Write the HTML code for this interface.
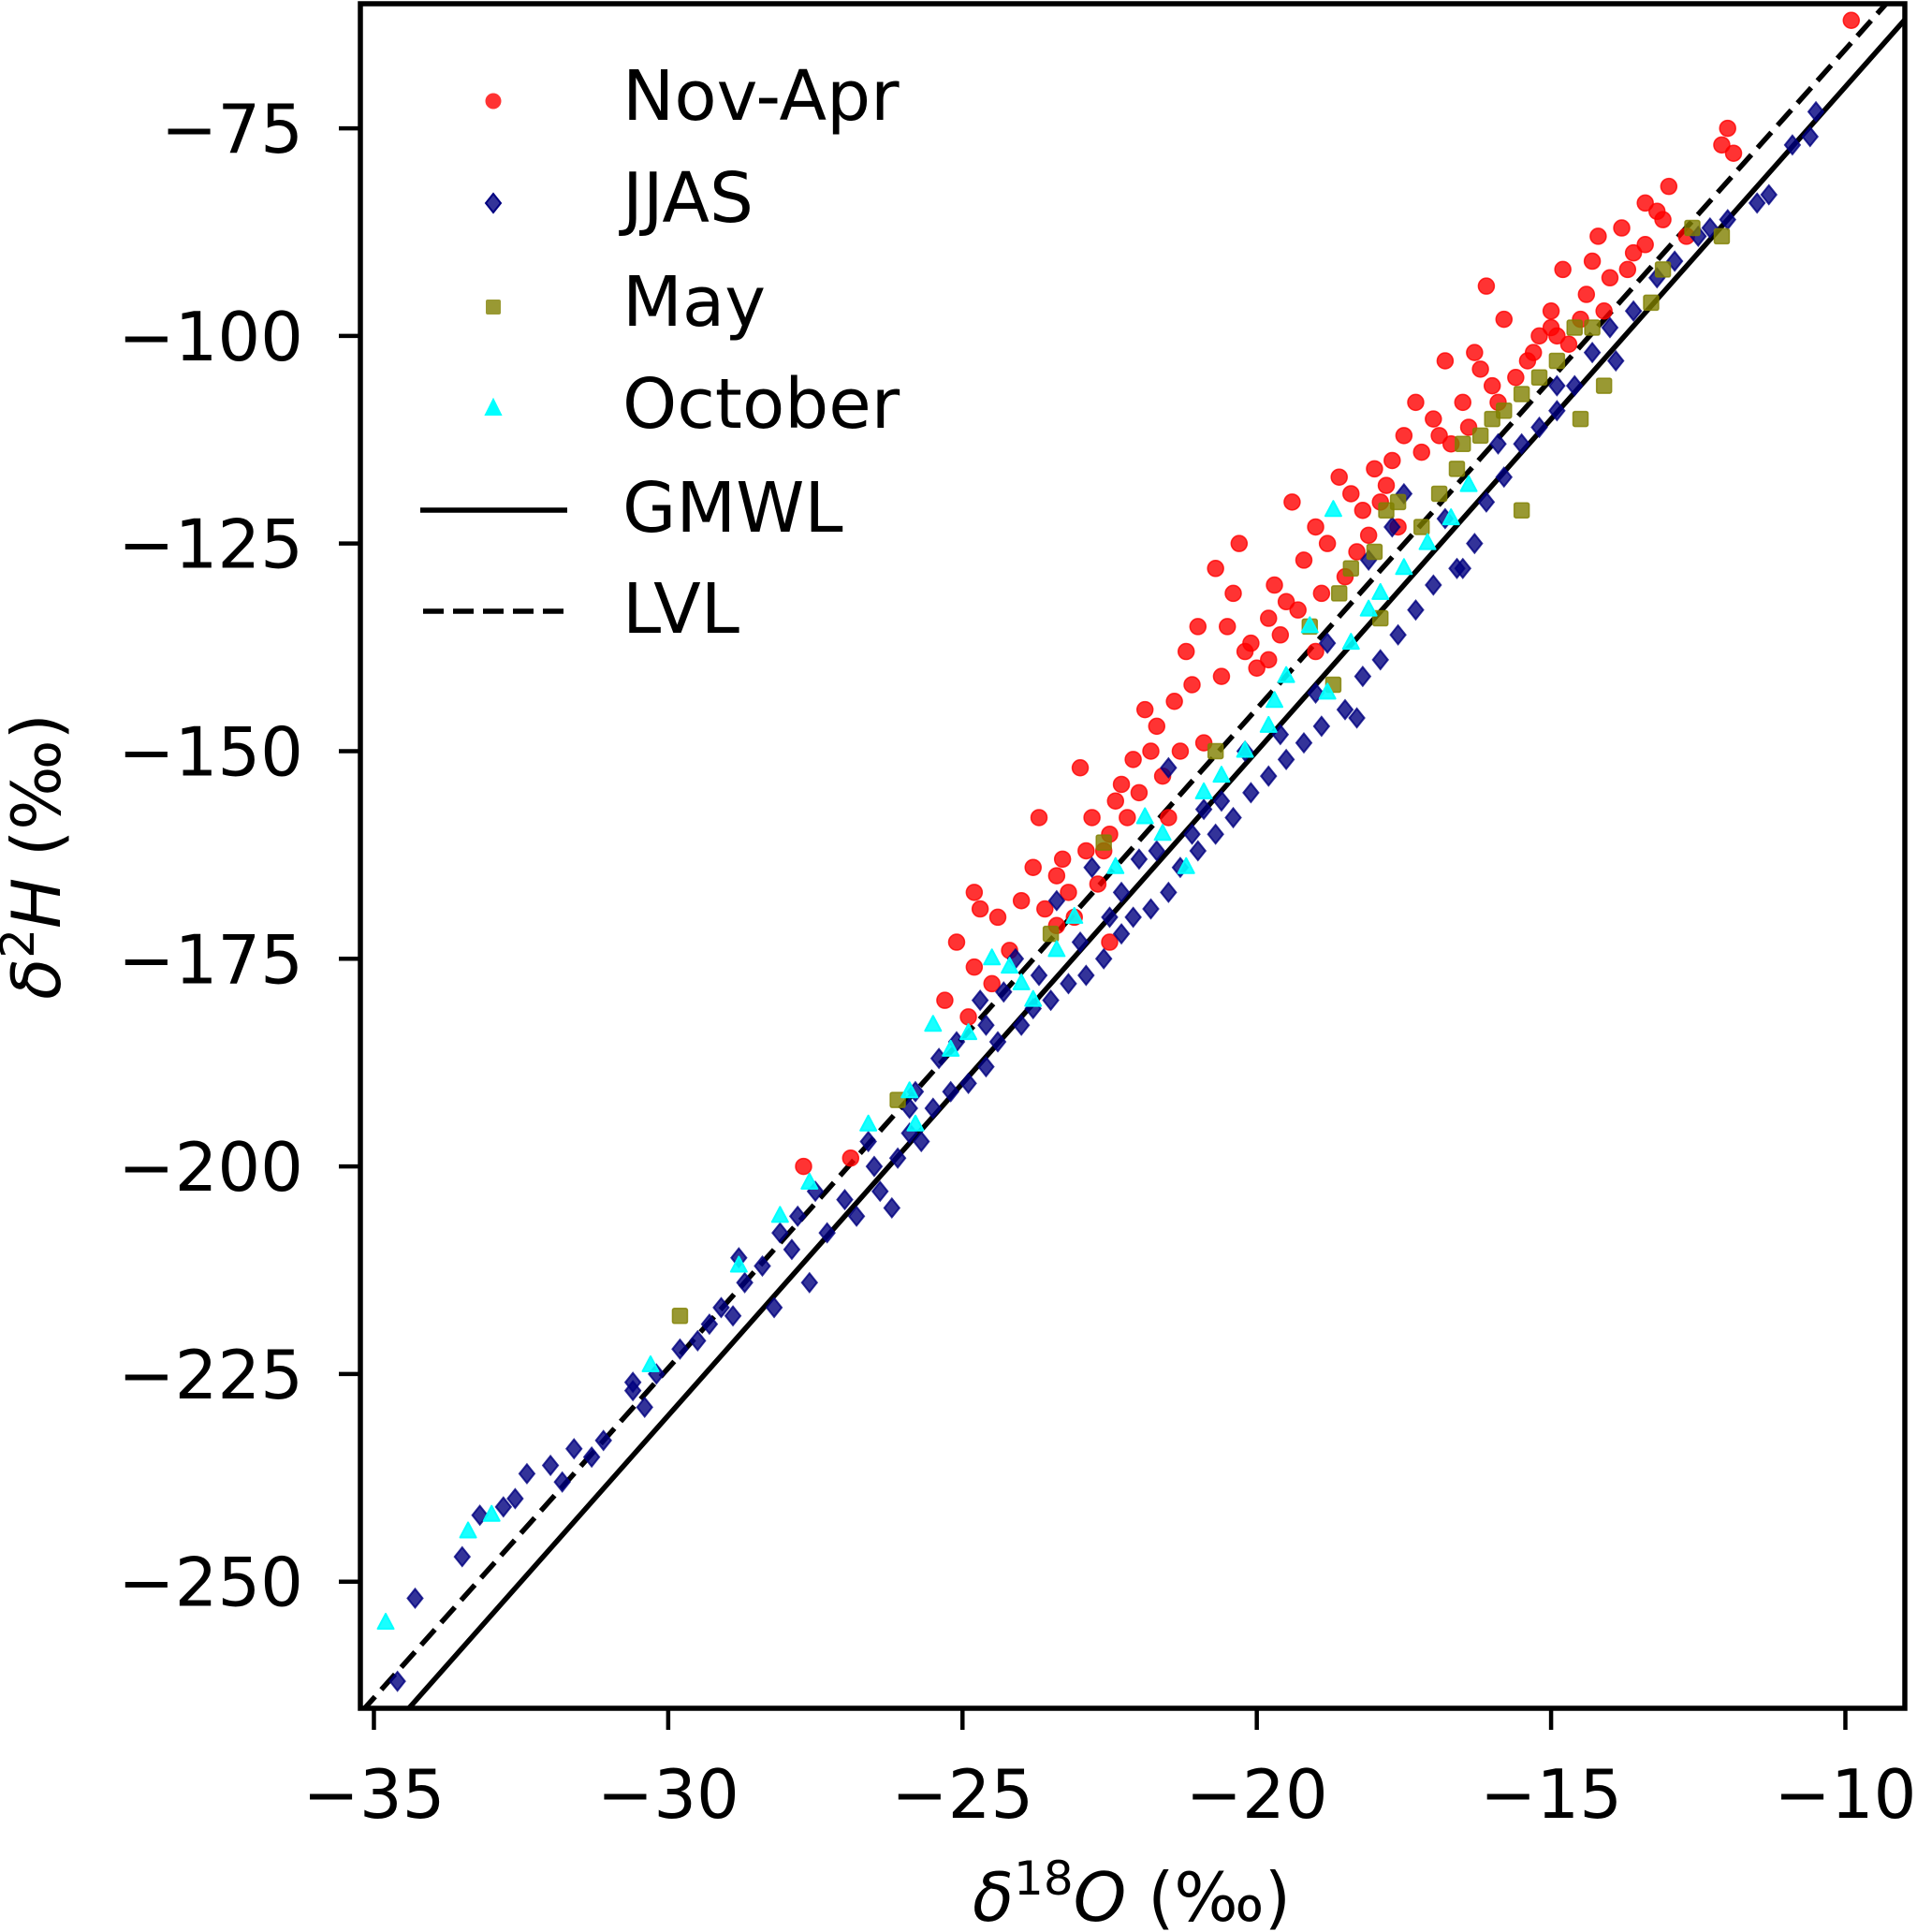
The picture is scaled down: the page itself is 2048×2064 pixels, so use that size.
<!DOCTYPE html>
<html><head><meta charset="utf-8">
<style>
html,body{margin:0;padding:0;background:#fff;}
svg{display:block;font-family:"DejaVu Sans","Liberation Sans",sans-serif;}
</style></head>
<body>
<svg id="chart" width="2048" height="2064" viewBox="0 0 2048 2064" xmlns="http://www.w3.org/2000/svg"></svg>
<script>
const xTicks=[-35,-30,-25,-20,-15,-10];
const yTicks=[-75,-100,-125,-150,-175,-200,-225,-250];
const novAprX=[-9.9,-12,-12.1,-11.9,-13,-13.4,-13.2,-13.8,-14.2,-13.6,-13.1,-14.8,-16.1,-14,-14.4,-14.1,-15,-15.2,-14.7,-15.4,-15.6,-16.8,-16,-16.5,-17,-16.4,-17.5,-17.2,-18.6,-18,-18.4,-17.8,-18.2,-17.6,-19.4,-19,-20.3,-18.8,-19.2,-18.5,-18.9,-19.5,-19.8,-20.7,-20.5,-20.1,-21.2,-20,-20.6,-21.1,-21.4,-21.7,-19.8,-20.9,-21.3,-21.6,-22,-22.4,-23,-22.2,-22.5,-22.8,-22.9,-23.3,-23.7,-23.4,-23.2,-22.7,-23.6,-24,-24.4,-22.5,-23.4,-24.8,-24.7,-25.1,-24.8,-24.5,-25.3,-24.9,-27.7,-26.9,-15.8,-14.5,-13.4,-12.7,-16.3,-16.7,-17.3,-18.1,-19.7,-20.4,-21,-21.9,-19,-22.1,-23.1,-22.6,-21.5,-24.2,-15,-14.3,-13.7,-14.9,-15.9,-16.9,-17.9,-18.3,-19.3,-20.2,-21.8,-22.3,-23.8,-19.6,-16.2,-15.3,-17.7];
const novAprY=[-62,-75,-77,-78,-82,-84,-85,-87,-88,-90,-86,-92,-94,-93,-95,-97,-99,-100,-101,-103,-105,-103,-106,-108,-110,-111,-112,-114,-117,-116,-119,-118,-121,-123,-120,-123,-125,-125,-127,-129,-131,-132,-134,-128,-135,-137,-138,-140,-141,-142,-144,-147,-139,-149,-150,-153,-155,-156,-152,-158,-160,-158,-162,-163,-158,-165,-167,-166,-169,-168,-170,-173,-171,-167,-169,-173,-176,-178,-180,-182,-200,-199,-98,-98,-89,-88,-102,-113,-108,-124,-130,-131,-135,-145,-138,-151,-170,-162,-158,-174,-97,-91,-92,-100,-108,-112,-120,-126,-133,-138,-150,-154,-164,-136,-104,-102,-115];
const jjasX=[-34.6,-34.3,-33.5,-33.2,-32.8,-32.4,-32,-31.8,-31.6,-31.3,-31.1,-30.6,-30.4,-30.2,-29.8,-29.5,-29.1,-28.9,-28.7,-28.4,-28.1,-27.9,-27.6,-27.3,-27,-26.8,-26.4,-26.1,-25.9,-25.7,-25.5,-25.2,-24.9,-24.6,-24.4,-24,-23.8,-23.5,-23.2,-22.9,-22.6,-22.3,-22.1,-21.8,-21.5,-21.3,-21,-20.7,-20.4,-20.1,-19.8,-19.5,-19.2,-18.9,-18.5,-18.2,-17.9,-17.6,-17.3,-17,-16.6,-16.3,-16.1,-15.8,-15.5,-15.2,-14.9,-14.6,-14.3,-14,-13.6,-13.2,-12.9,-12.5,-12,-11.5,-11.3,-10.9,-10.6,-10.5,-18.8,-18.3,-17.7,-18.1,-16.5,-20.2,-21.5,-22,-22.8,-23.4,-24.1,-24.7,-25.1,-26.5,-25.8,-27.5,-26.2,-29.3,-28.2,-30.6,-22.5,-21.1,-20.6,-19.6,-19,-23.7,-24.3,-25.4,-26.6,-27.8,-28.8,-32.6,-17.5,-16.8,-15.9,-14.9,-13.9,-12.3,-20.9,-21.7,-23,-24.6,-25.9,-22.3];
const jjasY=[-262,-252,-247,-242,-241,-237,-236,-238,-234,-235,-233,-227,-229,-225,-222,-221,-217,-218,-214,-212,-208,-210,-214,-208,-204,-206,-203,-199,-196,-197,-193,-191,-190,-188,-185,-183,-181,-180,-178,-177,-175,-172,-170,-169,-167,-164,-162,-160,-158,-155,-153,-151,-149,-147,-145,-141,-139,-136,-133,-130,-128,-125,-120,-117,-113,-111,-109,-106,-102,-99,-97,-93,-91,-88,-86,-84,-83,-77,-76,-73,-137,-146,-123,-127,-128,-150,-152,-163,-164,-168,-175,-180,-185,-200,-191,-203,-205,-219,-217,-226,-170,-160,-156,-148,-143,-177,-179,-187,-197,-206,-211,-240,-119,-122,-113,-106,-103,-87,-157,-162,-173,-183,-193,-167];
const mayX=[-29.8,-26.1,-23.5,-22.6,-20.7,-19.1,-18.7,-18.4,-18,-17.8,-17.6,-17.2,-16.9,-16.6,-16.5,-16.2,-15.8,-15.5,-15.5,-15.2,-14.9,-14.6,-14.3,-14.1,-14.5,-13.3,-13.1,-12.6,-12.1,-16,-17.9,-18.6];
const mayY=[-218,-192,-172,-161,-150,-135,-142,-128,-126,-121,-120,-123,-119,-116,-113,-112,-109,-121,-107,-105,-103,-99,-99,-106,-110,-96,-92,-87,-88,-110,-134,-131];
const octX=[-34.8,-33.4,-33,-30.3,-28.8,-28.1,-27.6,-26.6,-25.9,-25.8,-25.2,-24.9,-24.5,-24.2,-23.8,-23.4,-23.1,-22.4,-21.9,-21.6,-21.2,-20.6,-20.2,-19.8,-19.7,-19.5,-19.1,-18.8,-18.7,-18.4,-18.1,-17.9,-17.5,-17.1,-16.7,-16.4,-20.9,-24,-25.5];
const octY=[-255,-244,-242,-224,-212,-206,-202,-195,-191,-195,-186,-184,-175,-176,-180,-174,-170,-164,-158,-160,-164,-153,-150,-147,-144,-141,-135,-143,-121,-137,-133,-131,-128,-125,-122,-118,-155,-178,-183];
const gmwlCoef=[8,10];
const lvlCoef=[7.94,13.9];

const NS="http://www.w3.org/2000/svg";
const svg=document.getElementById('chart');
const L=385,R=2035,T=4,B=1825;
const xMin=-35.23,xMax=-8.99,yMin=-265.25,yMax=-60;
const sx=v=>L+(v-xMin)/(xMax-xMin)*(R-L);
const sy=v=>B-(v-yMin)/(yMax-yMin)*(B-T);
function mk(tag,attrs,parent){const e=document.createElementNS(NS,tag);for(const k in attrs)e.setAttribute(k,attrs[k]);(parent||svg).appendChild(e);return e;}

const defs=mk('defs',{});
const cp=mk('clipPath',{id:'plotclip'},defs);
mk('rect',{x:L,y:T,width:R-L,height:B-T},cp);
const plot=mk('g',{'clip-path':'url(#plotclip)'});



function line(coef,dash,name){
  const x1=xMin-1,x2=xMax+1;
  const l=mk('line',{x1:sx(x1),y1:sy(coef[0]*x1+coef[1]),x2:sx(x2),y2:sy(coef[0]*x2+coef[1]),stroke:'#000','stroke-width':5.5,'stroke-dasharray':dash||'none'},plot);
  
  
}
line(gmwlCoef,null,'gmwl-line');
line(lvlCoef,'22 10','lvl-line');

function circle(x,y,g){return mk('circle',{cx:x,cy:y,r:8.5,fill:'#ff0000','fill-opacity':0.8,stroke:'#ff0000','stroke-opacity':0.8,'stroke-width':1.5},g);}
function diamond(x,y,g){const s=10;return mk('polygon',{points:`${x},${y-s} ${x+s*0.8},${y} ${x},${y+s} ${x-s*0.8},${y}`,fill:'#000080','fill-opacity':0.8,stroke:'#000080','stroke-opacity':0.8,'stroke-width':2},g);}
function square(x,y,g){const s=8;return mk('rect',{x:x-s,y:y-s,width:2*s,height:2*s,rx:2,fill:'#808000','fill-opacity':0.8,stroke:'#808000','stroke-opacity':0.8,'stroke-width':1.5},g);}
function tri(x,y,g){const s=10;return mk('polygon',{points:`${x},${y-s} ${x+s*0.85},${y+s*0.6} ${x-s*0.85},${y+s*0.6}`,fill:'#00ffff','fill-opacity':0.9,stroke:'#00ffff','stroke-width':2,'stroke-linejoin':'round'},g);}

function series(xs,ys,fn,name){
  const g=mk('g',{},plot);
  
  
  for(let i=0;i<xs.length;i++){
    const e=fn(sx(xs[i]),sy(ys[i]),g);
    
    
  }
}
series(novAprX,novAprY,circle,'nov-apr');
series(jjasX,jjasY,diamond,'jjas');
series(mayX,mayY,square,'may');
series(octX,octY,tri,'october');

const fr=mk('rect',{x:L,y:T,width:R-L,height:B-T,fill:'none',stroke:'#000','stroke-width':5.5});



xTicks.forEach(v=>{
  const t=mk('line',{x1:sx(v),y1:B,x2:sx(v),y2:B+23,stroke:'#000','stroke-width':4.5});
  
  
  const tx=mk('text',{x:sx(v),y:1942,'font-size':72,'text-anchor':'middle'});
  tx.textContent='\u2212'+Math.abs(v);
  
  
});
yTicks.forEach(v=>{
  const t=mk('line',{x1:L-23,y1:sy(v),x2:L,y2:sy(v),stroke:'#000','stroke-width':4.5});
  
  
  const tx=mk('text',{x:324,y:sy(v)+26,'font-size':72,'text-anchor':'end'});
  tx.textContent='\u2212'+Math.abs(v);
  
  
});
</script>
<svg style="position:absolute;left:0;top:0;" width="2048" height="2064" xmlns="http://www.w3.org/2000/svg" font-family="DejaVu Sans, Liberation Sans, sans-serif">
  <text x="1209" y="2052" font-size="72" text-anchor="middle"><tspan font-style="italic">δ</tspan><tspan font-size="50" dy="-28">18</tspan><tspan font-style="italic" dy="28">O</tspan> (‰)</text>
  <text transform="translate(64,915) rotate(-90)" font-size="72" text-anchor="middle"><tspan font-style="italic">δ</tspan><tspan font-size="50" dy="-28">2</tspan><tspan font-style="italic" dy="28">H</tspan> (‰)</text>
  <g font-size="74">
    <g>
      <circle cx="527" cy="108" r="8.5" fill="#ff0000" fill-opacity="0.8"/>
      <text x="665" y="128">Nov-Apr</text>
    </g>
    <g>
      <polygon points="527,207 535,217 527,227 519,217" fill="#000080" fill-opacity="0.8" stroke="#000080" stroke-width="2"/>
      <text x="665" y="237">JJAS</text>
    </g>
    <g>
      <rect x="519" y="320" width="16" height="16" rx="2" fill="#808000" fill-opacity="0.8"/>
      <text x="665" y="348">May</text>
    </g>
    <g>
      <polygon points="527,427 535,443 519,443" fill="#00ffff" stroke="#00ffff" stroke-width="2"/>
      <text x="665" y="457">October</text>
    </g>
    <g>
      <line x1="449" y1="545" x2="606" y2="545" stroke="#000" stroke-width="5.5"/>
      <text x="665" y="568">GMWL</text>
    </g>
    <g>
      <line x1="452" y1="653" x2="606" y2="653" stroke="#000" stroke-width="5.5" stroke-dasharray="22 10"/>
      <text x="665" y="676">LVL</text>
    </g>
  </g>
</svg>
</body></html>
